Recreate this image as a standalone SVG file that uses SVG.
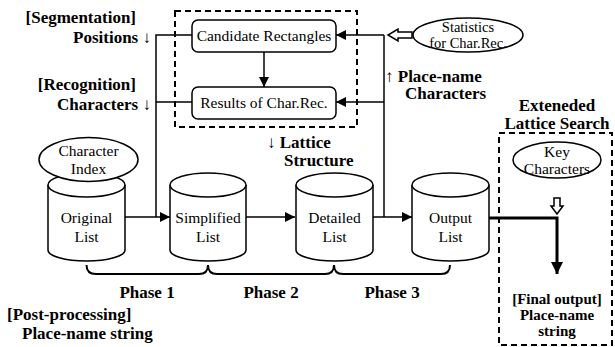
<svg xmlns="http://www.w3.org/2000/svg" width="615" height="347" viewBox="0 0 615 347" font-family="Liberation Serif, Times New Roman, Times, serif">
<style>
text{font-family:'Liberation Serif','Times New Roman',Times,serif;fill:#000}
.n{font-size:15.5px}
.b{font-size:17px;font-weight:bold}
.s{fill:none;stroke:#000;stroke-width:1.5}
.w{fill:#fff;stroke:#000;stroke-width:1.5}
.d{fill:none;stroke:#000;stroke-width:2;stroke-dasharray:6 4}
</style>
<defs>
<marker id="ah" viewBox="0 0 10 10" refX="10" refY="5" markerWidth="10" markerHeight="10" markerUnits="userSpaceOnUse" orient="auto">
<path d="M0,0 L10,5 L0,10 Z" fill="#000"/>
</marker>
<marker id="ahb" viewBox="0 0 12 12" refX="12" refY="6" markerWidth="12" markerHeight="12" markerUnits="userSpaceOnUse" orient="auto">
<path d="M0,0 L12,6 L0,12 Z" fill="#000"/>
</marker>
</defs>

<g id="dashed-boxes">
<rect class="d" x="175" y="11" width="182" height="116"/>
<rect class="d" x="499" y="133" width="113" height="212"/>
</g>

<g id="connectors">
<line class="s" x1="264" y1="52" x2="264" y2="87" marker-end="url(#ah)"/>
<polyline class="s" points="192,35 156,35 156,217"/>
<line class="s" x1="156" y1="102" x2="192" y2="102"/>
<line class="s" x1="125" y1="217" x2="170" y2="217" marker-end="url(#ah)"/>
<line class="s" x1="246" y1="217" x2="295" y2="217" marker-end="url(#ah)"/>
<line class="s" x1="373" y1="217" x2="412" y2="217" marker-end="url(#ah)"/>
<line class="s" x1="384" y1="217" x2="384" y2="35"/>
<line class="s" x1="384" y1="35" x2="336" y2="35" marker-end="url(#ah)"/>
<line class="s" x1="384" y1="102" x2="336" y2="102" marker-end="url(#ah)"/>
<path d="M412,32 L398,32 L398,29 L388,35 L398,41 L398,38 L412,38 Z" fill="#fff" stroke="#000" stroke-width="1.5"/>
<path d="M554,198 L554,206 L551,206 L557,214 L563,206 L560,206 L560,198 Z" fill="#fff" stroke="#000" stroke-width="1.5"/>
<polyline points="489,218 557,218 557,274" fill="none" stroke="#000" stroke-width="3" marker-end="url(#ahb)"/>
<path d="M86.5,265 Q86.5,274 96,274 L199,274 Q208,274 208,265 Q208,274 217,274 L325,274 Q334,274 334,265 Q334,274 343,274 L441,274 Q450,274 450,265" fill="none" stroke="#000" stroke-width="2"/>
</g>

<g id="candidate-rectangles">
<rect class="w" x="192" y="20" width="144" height="32" rx="6"/>
<text class="n" x="264" y="41" text-anchor="middle">Candidate Rectangles</text>
</g>
<g id="results-char-rec">
<rect class="w" x="192" y="87" width="144" height="32" rx="6"/>
<text class="n" x="264" y="108" text-anchor="middle">Results of Char.Rec.</text>
</g>

<g id="statistics">
<ellipse class="w" cx="468" cy="35" rx="55" ry="17"/>
<text x="468" y="32" text-anchor="middle" style="font-size:14.5px">Statistics</text>
<text x="468" y="47.5" text-anchor="middle" style="font-size:14.5px">for Char.Rec.</text>
</g>

<g id="original-list">
<path class="w" d="M48,185 L48,250 A38.5,11 0 0 0 125,250 L125,185"/>
<ellipse class="w" cx="86.5" cy="185" rx="38.5" ry="12"/>
<text class="n" x="86.5" y="223" text-anchor="middle">Original</text>
<text class="n" x="86.5" y="241.5" text-anchor="middle">List</text>
</g>
<g id="character-index">
<ellipse class="w" cx="88.5" cy="159.5" rx="49.5" ry="22"/>
<text class="n" x="88.5" y="155.5" text-anchor="middle">Character</text>
<text class="n" x="88.5" y="174" text-anchor="middle">Index</text>
</g>

<g id="simplified-list">
<path class="w" d="M170,185 L170,250 A38,11 0 0 0 246,250 L246,185"/>
<ellipse class="w" cx="208" cy="185" rx="38" ry="12"/>
<text class="n" x="208" y="223" text-anchor="middle">Simplified</text>
<text class="n" x="208" y="241.5" text-anchor="middle">List</text>
</g>

<g id="detailed-list">
<path class="w" d="M296,185 L296,250 A38.5,11 0 0 0 373,250 L373,185"/>
<ellipse class="w" cx="334.5" cy="185" rx="38.5" ry="12"/>
<text class="n" x="334.5" y="223" text-anchor="middle">Detailed</text>
<text class="n" x="334.5" y="241.5" text-anchor="middle">List</text>
</g>

<g id="output-list">
<path class="w" d="M412,185 L412,250 A38.5,11 0 0 0 489,250 L489,185"/>
<ellipse class="w" cx="450.5" cy="185" rx="38.5" ry="12"/>
<text class="n" x="450.5" y="223" text-anchor="middle">Output</text>
<text class="n" x="450.5" y="241.5" text-anchor="middle">List</text>
</g>

<g id="key-characters">
<ellipse class="w" cx="557" cy="160" rx="44" ry="18"/>
<text class="n" x="557" y="157" text-anchor="middle">Key</text>
<text class="n" x="557" y="174" text-anchor="middle">Characters</text>
</g>

<g id="labels">
<text class="b" x="136" y="23" text-anchor="end">[Segmentation]</text>
<text class="b" x="151" y="43" text-anchor="end">Positions <tspan font-weight="normal">↓</tspan></text>
<text class="b" x="136" y="90" text-anchor="end">[Recognition]</text>
<text class="b" x="151" y="110" text-anchor="end">Characters <tspan font-weight="normal">↓</tspan></text>
<text class="b" x="267" y="148"><tspan font-weight="normal">↓</tspan> Lattice</text>
<text class="b" x="284" y="166">Structure</text>
<text class="b" x="385" y="82"><tspan font-weight="normal">↑</tspan> Place-name</text>
<text class="b" x="405" y="99">Characters</text>
<text class="b" x="557" y="111" text-anchor="middle">Exteneded</text>
<text class="b" x="557" y="129" text-anchor="middle">Lattice Search</text>
<text class="b" x="147" y="298" text-anchor="middle">Phase 1</text>
<text class="b" x="271" y="298" text-anchor="middle">Phase 2</text>
<text class="b" x="392" y="298" text-anchor="middle">Phase 3</text>
<text class="b" x="7" y="320">[Post-processing]</text>
<text class="b" x="22" y="339">Place-name string</text>
<text class="b" x="557" y="304" text-anchor="middle" style="font-size:15px">[Final output]</text>
<text class="b" x="557" y="320" text-anchor="middle" style="font-size:15px">Place-name</text>
<text class="b" x="557" y="336" text-anchor="middle" style="font-size:15px">string</text>
</g>
</svg>
